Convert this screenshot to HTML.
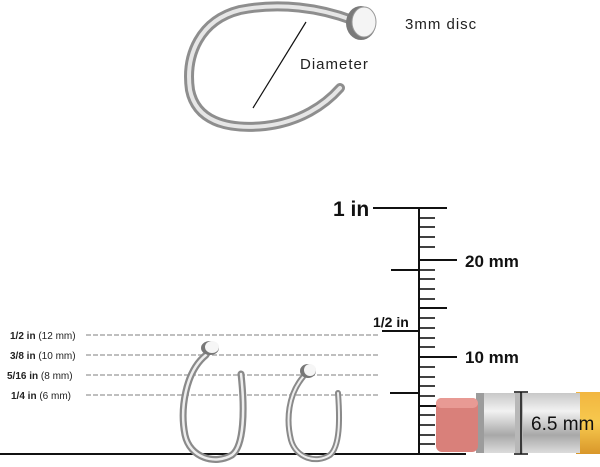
<!DOCTYPE html>
<html><head><meta charset="utf-8"><style>
html,body{margin:0;padding:0;background:#fff;}
svg{display:block;font-family:"Liberation Sans",Arial,sans-serif;}
</style></head><body>
<svg width="600" height="467" viewBox="0 0 600 467" xmlns="http://www.w3.org/2000/svg">
<defs>
<linearGradient id="fer" x1="0" y1="0" x2="0" y2="1">
<stop offset="0" stop-color="#c8c8c8"/><stop offset="0.3" stop-color="#f2f2f2"/><stop offset="0.7" stop-color="#a8a8a8"/><stop offset="1" stop-color="#dcdcdc"/>
</linearGradient>
<linearGradient id="yel" x1="0" y1="0" x2="0" y2="1">
<stop offset="0" stop-color="#f2b640"/><stop offset="0.5" stop-color="#f7c94e"/><stop offset="1" stop-color="#d9972a"/>
</linearGradient>
</defs>

<!-- top ring -->
<path d="M352,20 C320,8 280,2 240,10 C200,20 185,55 190,90 C196,120 225,130 265,126 C300,122 325,105 340,88" fill="none" stroke="#8e8e8e" stroke-width="10" stroke-linecap="round"/>
<path d="M352,20 C320,8 280,2 240,10 C200,20 185,55 190,90 C196,120 225,130 265,126 C300,122 325,105 340,88" fill="none" stroke="#e6e6e6" stroke-width="4" stroke-linecap="round"/>
<ellipse cx="361" cy="23" rx="15" ry="17" fill="#7a7a7a"/>
<ellipse cx="364" cy="22" rx="12" ry="15" fill="#f4f4f4" stroke="#999" stroke-width="1"/>
<line x1="306" y1="22" x2="253" y2="108" stroke="#111" stroke-width="1.2"/>
<text x="300" y="69" font-size="15" fill="#222" letter-spacing="1">Diameter</text>
<text x="405" y="29" font-size="15" fill="#222" letter-spacing="1">3mm disc</text>

<!-- dashed lines & labels -->
<g stroke="#aaa" stroke-width="1.5" stroke-dasharray="5,2">
<line x1="86" y1="335" x2="380" y2="335"/>
<line x1="86" y1="355" x2="380" y2="355"/>
<line x1="86" y1="375" x2="380" y2="375"/>
<line x1="86" y1="395" x2="380" y2="395"/>
</g>
<g font-size="10" fill="#222">
<text x="10" y="339"><tspan font-weight="bold">1/2 in</tspan> (12 mm)</text>
<text x="10" y="359"><tspan font-weight="bold">3/8 in</tspan> (10 mm)</text>
<text x="7" y="379"><tspan font-weight="bold">5/16 in</tspan>  (8 mm)</text>
<text x="11" y="399"><tspan font-weight="bold">1/4 in</tspan>  (6 mm)</text>
</g>

<!-- bottom baseline -->
<line x1="0" y1="454" x2="466" y2="454" stroke="#111" stroke-width="2"/>

<!-- big ring -->
<path d="M206,355 C185,372 180,410 185,435 C190,458 215,465 232,455 C244,446 245,410 241,374" fill="none" stroke="#8a8a8a" stroke-width="7" stroke-linecap="round"/>
<path d="M206,355 C185,372 180,410 185,435 C190,458 215,465 232,455 C244,446 245,410 241,374" fill="none" stroke="#eee" stroke-width="2.5" stroke-linecap="round"/>
<ellipse cx="210" cy="348" rx="9" ry="7" fill="#777"/>
<ellipse cx="212" cy="347" rx="7" ry="6" fill="#f6f6f6"/>
<!-- small ring -->
<path d="M303,377 C288,395 286,420 291,440 C296,458 316,464 330,455 C340,446 340,420 338,393" fill="none" stroke="#8a8a8a" stroke-width="6" stroke-linecap="round"/>
<path d="M303,377 C288,395 286,420 291,440 C296,458 316,464 330,455 C340,446 340,420 338,393" fill="none" stroke="#eee" stroke-width="2" stroke-linecap="round"/>
<ellipse cx="308" cy="371" rx="8" ry="7" fill="#777"/>
<ellipse cx="310" cy="370" rx="6" ry="6" fill="#f6f6f6"/>

<!-- ruler -->
<g stroke="#111" stroke-width="2">
<line x1="419" y1="208" x2="419" y2="454"/>
<line x1="373" y1="208" x2="447" y2="208"/>
<line x1="391" y1="270" x2="419" y2="270"/>
<line x1="382" y1="331" x2="419" y2="331"/>
<line x1="390" y1="393" x2="419" y2="393"/>
<line x1="419" y1="260" x2="457" y2="260"/>
<line x1="419" y1="308" x2="447" y2="308"/>
<line x1="419" y1="357" x2="457" y2="357"/>
<line x1="419" y1="406" x2="448" y2="406"/>
</g>
<g stroke="#111" stroke-width="1.6">
<line x1="419" y1="218" x2="435" y2="218"/><line x1="419" y1="227" x2="435" y2="227"/>
<line x1="419" y1="237" x2="435" y2="237"/><line x1="419" y1="247" x2="435" y2="247"/>
<line x1="419" y1="270" x2="435" y2="270"/><line x1="419" y1="279" x2="435" y2="279"/>
<line x1="419" y1="289" x2="435" y2="289"/><line x1="419" y1="299" x2="435" y2="299"/>
<line x1="419" y1="318" x2="435" y2="318"/><line x1="419" y1="328" x2="435" y2="328"/>
<line x1="419" y1="338" x2="435" y2="338"/><line x1="419" y1="347" x2="435" y2="347"/>
<line x1="419" y1="367" x2="435" y2="367"/><line x1="419" y1="377" x2="435" y2="377"/>
<line x1="419" y1="386" x2="435" y2="386"/><line x1="419" y1="396" x2="435" y2="396"/>
<line x1="419" y1="415" x2="435" y2="415"/><line x1="419" y1="425" x2="435" y2="425"/>
<line x1="419" y1="435" x2="435" y2="435"/><line x1="419" y1="444" x2="435" y2="444"/>
</g>
<text x="333" y="216" font-size="21" font-weight="bold" fill="#111">1 in</text>
<text x="465" y="267" font-size="17" font-weight="bold" fill="#111">20 mm</text>
<text x="373" y="327" font-size="14" font-weight="bold" fill="#111">1/2 in</text>
<text x="465" y="363" font-size="17" font-weight="bold" fill="#111">10 mm</text>

<!-- pencil -->
<rect x="576" y="392" width="30" height="62" fill="url(#yel)"/>
<rect x="476" y="393" width="104" height="60" fill="url(#fer)"/>
<rect x="476" y="393" width="8" height="60" fill="#9c9c9c"/>
<rect x="515" y="393" width="8" height="60" fill="#b8b8b8"/>
<rect x="436" y="398" width="42" height="54" rx="6" fill="#d9807a"/>
<rect x="436" y="398" width="42" height="10" rx="5" fill="#e89a94"/>
<g stroke="#111" stroke-width="1.5">
<line x1="521" y1="392" x2="521" y2="454"/>
<line x1="514" y1="392" x2="528" y2="392"/>
<line x1="514" y1="454" x2="528" y2="454"/>
</g>
<text x="531" y="430" font-size="19" fill="#111">6.5 mm</text>
</svg>
</body></html>
